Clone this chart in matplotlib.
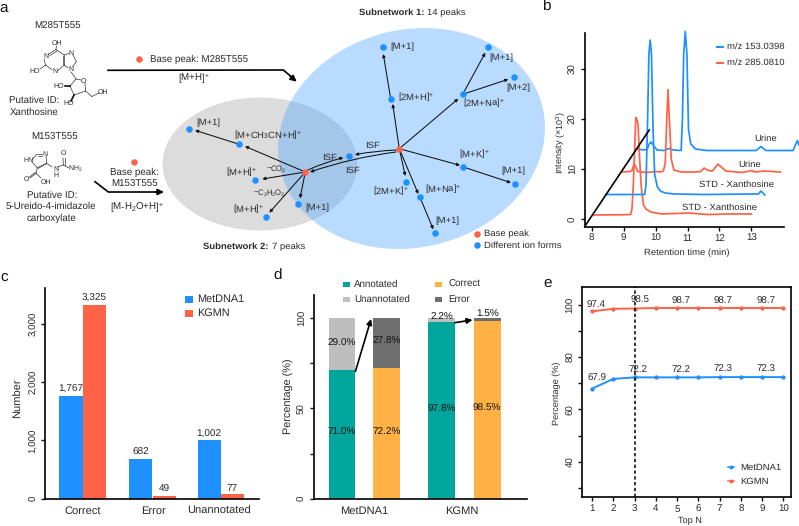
import matplotlib
matplotlib.use('Agg')
import matplotlib.pyplot as plt
from matplotlib.patches import Ellipse, FancyArrowPatch, Rectangle

plt.rcParams.update({
    'font.family': 'Liberation Sans',
    'font.size': 7,
    'text.hinting': 'none',
    'mathtext.fontset': 'custom',
    'mathtext.rm': 'Liberation Sans',
    'mathtext.it': 'Liberation Sans',
    'mathtext.bf': 'Liberation Sans:bold',
    'mathtext.default': 'regular',
    'axes.linewidth': 1.2,
    'text.color': '#2a2a2a',
    'xtick.color': '#111111',
    'ytick.color': '#111111',
    'xtick.labelcolor': '#2a2a2a',
    'ytick.labelcolor': '#2a2a2a',
})

W, H = 799, 526
BLUE = '#1E90FF'
RED = '#FF6347'
TEAL = '#00A59B'
ORANGE = '#FFB144'
LGRAY = '#BEBEBE'
DGRAY = '#6E6E6E'

# panel b traces, (retention time, intensity)
std_red_x = [8.05, 9.0, 9.22, 9.26, 9.3, 9.35, 9.38, 9.41, 9.45, 9.5, 9.55, 9.62, 9.7, 9.85, 10.2, 10.6, 11.05, 11.6, 12.3, 13.0]
std_red_y = [0.8, 0.85, 0.9, 2.0, 6.5, 15.0, 20.3, 20.0, 19.0, 12.0, 6.5, 2.8, 2.0, 1.4, 1.0, 1.1, 1.2, 0.9, 1.0, 1.0]
std_blue_x = [8.45, 9.2, 9.66, 9.7, 9.75, 9.79, 9.83, 9.87, 9.92, 9.97, 10.05, 10.15, 10.3, 10.6, 11.5, 13.1, 13.22, 13.3, 13.36, 13.42]
std_blue_y = [4.9, 4.9, 4.9, 7.0, 20.0, 33.0, 35.8, 33.0, 18.0, 9.0, 6.5, 5.6, 5.2, 5.0, 4.9, 5.0, 5.0, 5.6, 5.2, 4.8]
urine_red_x = [8.97, 9.2, 9.26, 9.33, 9.38, 9.44, 9.7, 10.0, 10.15, 10.24, 10.3, 10.35, 10.39, 10.43, 10.49, 10.57, 10.8, 11.2, 11.42, 11.52, 11.65, 11.78, 11.95, 12.02, 12.2, 12.7, 13.02, 13.1, 13.4, 13.9]
urine_red_y = [9.4, 9.5, 9.7, 11.1, 10.4, 9.5, 9.3, 9.5, 9.4, 9.6, 11.0, 20.0, 25.9, 20.0, 12.0, 9.8, 9.4, 9.4, 9.5, 10.2, 9.7, 9.6, 11.0, 10.6, 9.6, 9.3, 9.7, 9.4, 9.6, 9.4]
urine_blue_x = [9.41, 9.65, 9.74, 9.8, 9.86, 9.95, 10.05, 10.25, 10.42, 10.55, 10.8, 10.84, 10.88, 10.93, 10.98, 11.03, 11.1, 11.25, 11.6, 13.15, 13.3, 13.45, 14.0, 14.3, 14.44, 14.54, 14.7]
urine_blue_y = [14.0, 13.8, 14.0, 15.0, 15.4, 14.5, 13.8, 13.7, 14.1, 13.8, 13.7, 20.0, 33.0, 37.5, 33.0, 18.0, 15.0, 14.0, 13.7, 13.7, 14.5, 13.7, 13.7, 13.7, 15.7, 14.0, 13.7]
waterfall_x = [7.78, 9.8]
waterfall_y = [-1.5, 17.8]

# panel c
c_groups = ['Correct', 'Error', 'Unannotated']
c_metdna = [1767, 682, 1002]
c_kgmn = [3325, 49, 77]

# panel d
d_bottom = [71.0, 72.2, 97.8, 98.5]
d_top = [29.0, 27.8, 2.2, 1.5]

# panel e
top_n = [1, 2, 3, 4, 5, 6, 7, 8, 9, 10]
e_metdna = [67.9, 71.6, 72.2, 72.2, 72.2, 72.2, 72.3, 72.3, 72.3, 72.3]
e_kgmn = [97.4, 98.4, 98.5, 98.7, 98.7, 98.7, 98.7, 98.7, 98.7, 98.7]

# panel a network, image pixels
base_nodes = [(399.3, 148.7), (305.3, 172)]
ion_nodes = [(383, 47.3), (390.7, 99), (462.7, 94.3), (488, 47), (514, 77.3), (463.3, 167),
             (514.7, 184), (420, 197.3), (435.3, 233), (406.3, 182.3), (349, 155.7),
             (298.3, 204.3), (189.3, 128.7), (239.3, 144.3), (255.3, 180), (265.7, 217.3)]
net_arrows = [((399.3, 148.7), (392.7, 104)), ((390.7, 99), (383.3, 54)),
              ((399.3, 148.7), (458.3, 98.7)), ((462.7, 94.3), (485.3, 52.7)),
              ((462.7, 94.3), (508.3, 79.3)), ((399.3, 148.7), (460, 165.3)),
              ((463.3, 167), (511, 182.7)), ((399.3, 148.7), (418.3, 194)),
              ((420, 197.3), (433.3, 229.3)), ((399.3, 148.7), (405.3, 176)),
              ((305.3, 172), (300, 198.3)), ((305.3, 172), (245, 146.3)),
              ((239.3, 144.3), (195, 130.3)), ((305.3, 172), (262.3, 179)),
              ((305.3, 172), (269.3, 212.7))]
net_curves = [((397, 150), (355, 154.7), 0.04), ((396, 152), (310, 172), 0.05),
              ((308, 170), (343.3, 157.7), -0.05)]
net_labels = [(390.7, 47.3, '[M+1]'), (397.7, 97.3, '[2M+H]$^{+}$'), (489.3, 58.3, '[M+1]'),
              (506.7, 87.7, '[M+2]'), (462.7, 102.7, '[2M+Na]$^{+}$'), (459.3, 154.3, '[M+K]$^{+}$'),
              (501.7, 171, '[M+1]'), (424.7, 189.3, '[M+Na]$^{+}$'), (435.7, 221.3, '[M+1]'),
              (372.7, 191.3, '[2M+K]$^{+}$'), (305, 208.3, '[M+1]'), (365, 145.7, 'ISF'),
              (321.7, 157.7, 'ISF'), (345, 170.7, 'ISF'), (196.7, 123.3, '[M+1]'),
              (234.3, 135, '[M+CH$_{3}$CN+H]$^{+}$'), (226, 171.7, '[M+H]$^{+}$'),
              (233.3, 209.3, '[M+H]$^{+}$')]

# molecule skeletons, image pixels
xanthosine_bonds = [((56, 49), (56.5, 46)), ((56, 49.5), (48, 54.5)), ((57, 51), (50, 55.5)), ((44, 59), (45.5, 65)),
                    ((45.5, 65), (52, 69.5)), ((58, 70.5), (64, 65)), ((64, 65), (64, 55)), ((62.5, 64), (62.5, 56)),
                    ((64, 55), (56, 49.5)), ((64, 55), (69, 53.5)), ((73, 55), (76.3, 61.5)), ((76.3, 61.5), (72.5, 67)),
                    ((68, 68), (64, 65)), ((45.5, 65), (40, 69)), ((71, 72), (76, 79)), ((76, 79), (81, 80)),
                    ((85, 83), (85.5, 91)), ((85.5, 91), (74, 95)), ((74, 95), (70, 86)), ((70, 86), (76, 79)),
                    ((85.5, 91), (92, 96.5)), ((92, 96.5), (99, 93))]
xanthosine_wedges = [((70, 86), (65, 86)), ((74, 95), (71, 101))]
xanthosine_atoms = [(57, 42.7, 'OH'), (45.5, 56.5, 'N'), (35, 71.3, 'HO'), (55, 71.3, 'N'), (71, 53.3, 'N'),
                    (70.7, 69.5, 'N'), (83.5, 81, 'O'), (58.5, 86, 'HO'), (68.5, 103, 'HO'), (103, 92.5, 'OH')]
imidazole_bonds = [((32, 160), (36.7, 154.3)), ((36.7, 154.3), (42, 154.3)), ((37.5, 155.5), (42, 155.5)), ((46, 156), (46.7, 163.3)),
                   ((46.7, 163.3), (37.3, 167.7)), ((46, 164), (38, 168.5)), ((37.3, 167.7), (32, 162)),
                   ((37.3, 167.7), (36, 173.3)), ((36, 173.3), (30, 178)), ((35.3, 172.5), (29.5, 177)),
                   ((36, 173.3), (41, 178)), ((46.7, 163.3), (52, 167)), ((57, 167), (63.3, 165)),
                   ((63.3, 165), (63, 158)), ((64.5, 165), (64.5, 158)), ((63.3, 165), (69, 168))]
imidazole_atoms = [(28, 160, 'HN'), (45, 154.3, 'N'), (26.5, 179.5, 'O'), (46, 182.3, 'OH'), (55.5, 168.7, 'N'),
                   (55.5, 175.3, 'H'), (63.3, 153.3, 'O'), (75.5, 168.3, 'NH$_{2}$')]


def px_axes(fig, left, top, right, bottom):
    return fig.add_axes([left / W, 1 - bottom / H, (right - left) / W, (bottom - top) / H])


def clean_spines(ax):
    ax.spines['top'].set_visible(False)
    ax.spines['right'].set_visible(False)
    ax.tick_params(axis='both', length=3, width=1.0, pad=2)
    plt.setp(ax.get_yticklabels(), rotation=90, va='center')


fig = plt.figure(figsize=(W / 100, H / 100), dpi=100)

# overlay in image pixels, for panel a and for the loose texts
ov = fig.add_axes([0, 0, 1, 1], zorder=10)
ov.set_xlim(0, W)
ov.set_ylim(H, 0)
ov.axis('off')
ov.patch.set_alpha(0)

# panel a
ov.add_patch(Ellipse((260, 164), 195, 133, fc='#DCDCDC', ec='none', zorder=1))
ov.add_patch(Ellipse((411.5, 138.5), 269.6, 217.8, angle=-13.5, fc='#50A7FF', alpha=0.4, ec='none', zorder=2))

for a, b in xanthosine_bonds + imidazole_bonds:
    ov.plot([a[0], b[0]], [a[1], b[1]], color='#333333', lw=0.5, zorder=3)
for a, b in xanthosine_wedges:
    ov.plot([a[0], b[0]], [a[1], b[1]], color='#111111', lw=1.2, zorder=3)
for x, y, s in xanthosine_atoms + imidazole_atoms:
    ov.text(x, y, s, fontsize=5, ha='center', va='center')

for a, b in net_arrows:
    ov.add_patch(FancyArrowPatch(a, b, arrowstyle='-|>', mutation_scale=4.5, lw=0.75, color='#111111',
                                 shrinkA=0, shrinkB=0, zorder=4))
for a, b, rad in net_curves:
    ov.add_patch(FancyArrowPatch(a, b, arrowstyle='-|>', mutation_scale=4.5, lw=0.75, color='#111111',
                                 connectionstyle='arc3,rad=%g' % rad, shrinkA=0, shrinkB=0, zorder=4))

ov.scatter([p[0] for p in ion_nodes] + [477], [p[1] for p in ion_nodes] + [245.3], s=22, color=BLUE, lw=0, zorder=5)
ov.scatter([p[0] for p in base_nodes] + [134.3, 139.3, 477], [p[1] for p in base_nodes] + [162.3, 58.7, 234],
           s=22, color=RED, lw=0, zorder=5)

for x, y, s in net_labels:
    ov.text(x, y, s, fontsize=6.8, ha='left', va='center', zorder=6)
ov.text(266, 169, '$-$CO$_{2}$', fontsize=5.5, ha='left', va='center', zorder=6)
ov.text(253.3, 192.3, '$-$C$_{2}$H$_{2}$O$_{2}$', fontsize=5.5, ha='left', va='center', zorder=6)

ov.plot([108, 283.3, 294], [70.3, 70, 79], color='k', lw=1.2, zorder=4)
ov.add_patch(FancyArrowPatch((290, 76), (296.7, 81.7), arrowstyle='-|>', mutation_scale=9, lw=1.2, color='k',
                             shrinkA=0, shrinkB=0, zorder=4))
ov.plot([95, 108.3, 158], [181.7, 192, 192], color='k', lw=1.2, zorder=4)
ov.add_patch(FancyArrowPatch((155, 192), (164, 192), arrowstyle='-|>', mutation_scale=9, lw=1.2, color='k',
                             shrinkA=0, shrinkB=0, zorder=4))

ctext = [(58, 26, 'M285T555'), (33.7, 100.7, 'Putative ID:'), (33.7, 112, 'Xanthosine'),
         (54.7, 137.3, 'M153T555'), (52, 195, 'Putative ID:'), (51, 206.7, '5-Ureido-4-imidazole'),
         (52, 218.3, 'carboxylate'), (194, 78, '[M+H]$^{+}$'), (134.3, 172.7, 'Base peak:'),
         (135, 184.3, 'M153T555'), (137.3, 207.3, '[M-H$_{2}$O+H]$^{+}$')]
for x, y, s in ctext:
    ov.text(x, y, s, fontsize=7, ha='center', va='center', zorder=6)
ov.text(424, 13, 'Subnetwork 1:', fontsize=6.8, weight='bold', ha='right', va='center')
ov.text(427, 13, '14 peaks', fontsize=6.8, ha='left', va='center')
ov.text(268.3, 246.7, 'Subnetwork 2:', fontsize=6.8, weight='bold', ha='right', va='center')
ov.text(271.7, 246.7, '7 peaks', fontsize=6.8, ha='left', va='center')
ov.text(150, 59.3, 'Base peak: M285T555', fontsize=7, ha='left', va='center')
ov.text(483.7, 234, 'Base peak', fontsize=6.8, ha='left', va='center')
ov.text(483.7, 245.3, 'Different ion forms', fontsize=6.8, ha='left', va='center')

for x, y, s in [(4, 8, 'a'), (546, 7, 'b'), (4, 276.7, 'c'), (277.3, 276, 'd'), (547.7, 282.7, 'e')]:
    ov.text(x, y, s, fontsize=11, ha='center', va='center', color='#111111')

# panel b
axb = px_axes(fig, 584.7, 33, 784, 226.7)
axb.set_xlim(7.78, 14.02)
axb.set_ylim(-1.54, 37.2)
axb.plot(std_red_x, std_red_y, color=RED, lw=1.25, clip_on=False, zorder=3)
axb.plot(std_blue_x, std_blue_y, color=BLUE, lw=1.25, clip_on=False, zorder=3)
axb.plot(urine_blue_x, urine_blue_y, color=BLUE, lw=1.25, clip_on=False, zorder=2)
axb.plot(urine_red_x, urine_red_y, color=RED, lw=1.25, clip_on=False, zorder=2)
axb.plot(waterfall_x, waterfall_y, color='k', lw=1.2, clip_on=False, zorder=4)
axb.set_xticks([8, 9, 10, 11, 12, 13])
axb.set_yticks([0, 10, 20, 30])
clean_spines(axb)
ov.text(560, 143, 'Intensity (×10$^{3}$)', fontsize=6.5, rotation=90, ha='center', va='center')
ov.text(686.7, 252.7, 'Retention time (min)', fontsize=6.8, ha='center', va='center')
ov.plot([717, 723], [47, 47], color=BLUE, lw=1.5)
ov.plot([717, 723], [63, 63], color=RED, lw=1.5)
ov.text(727, 47, 'm/z 153.0398', fontsize=6.8, ha='left', va='center')
ov.text(727, 63, 'm/z 285.0810', fontsize=6.8, ha='left', va='center')
for x, y, s in [(765.3, 139, 'Urine'), (749.7, 164.7, 'Urine'), (736.3, 185, 'STD - Xanthosine'),
                (719.7, 207.3, 'STD - Xanthosine')]:
    ov.text(x, y, s, fontsize=6.8, ha='center', va='center')

# panel c
axc = px_axes(fig, 45.3, 288, 259, 498.7)
axc.set_xlim(-0.533, 2.524)
axc.set_ylim(0, 3610)
c_pos = [0, 1.0, 1.976]
bar_w = 0.33
for i, p in enumerate(c_pos):
    axc.bar(p - bar_w / 2, c_metdna[i], bar_w, color=BLUE)
    axc.bar(p + bar_w / 2 + 0.003, c_kgmn[i], bar_w, color=RED)
    axc.text(p - bar_w / 2, c_metdna[i] + 25, f'{c_metdna[i]:,}', fontsize=7.2, ha='center', va='bottom')
    axc.text(p + bar_w / 2, c_kgmn[i] + 25, f'{c_kgmn[i]:,}', fontsize=7.2, ha='center', va='bottom')
axc.set_xticks([0, 1.01, 1.952])
axc.set_xticklabels(c_groups, fontsize=8)
axc.set_yticks([0, 1000, 2000, 3000])
axc.set_yticklabels(['0', '1,000', '2,000', '3,000'])
clean_spines(axc)
axc.tick_params(axis='x', length=0, pad=5)
ov.text(18, 398, 'Number', fontsize=8, rotation=90, ha='center', va='center')
ov.add_patch(Rectangle((185, 295.5), 7.7, 7, fc=BLUE, ec='none'))
ov.add_patch(Rectangle((185, 310), 7.7, 7, fc=RED, ec='none'))
ov.text(196.7, 299, 'MetDNA1', fontsize=7.8, ha='left', va='center')
ov.text(196.7, 313.3, 'KGMN', fontsize=7.8, ha='left', va='center')

# panel d
axd = px_axes(fig, 313.7, 295, 526.7, 498.7)
axd.set_xlim(-0.634, 4.134)
axd.set_ylim(0, 112.8)
d_pos = [0, 1, 2.23, 3.25]
axd.bar(d_pos[0], d_bottom[0], 0.6, color=TEAL)
axd.bar(d_pos[0], d_top[0], 0.6, bottom=d_bottom[0], color=LGRAY)
axd.bar(d_pos[1], d_bottom[1], 0.6, color=ORANGE)
axd.bar(d_pos[1], d_top[1], 0.6, bottom=d_bottom[1], color=DGRAY)
axd.bar(d_pos[2], d_bottom[2], 0.6, color=TEAL)
axd.bar(d_pos[2], d_top[2], 0.6, bottom=d_bottom[2], color=LGRAY)
axd.bar(d_pos[3], d_bottom[3], 0.6, color=ORANGE)
axd.bar(d_pos[3], d_top[3], 0.6, bottom=d_bottom[3], color=DGRAY)
d_low_label_y = [36.5, 36.8, 49.5, 50]
d_high_label_y = [86, 87, 100.5, 102]
for i, p in enumerate(d_pos):
    axd.text(p, d_low_label_y[i], f'{d_bottom[i]:.1f}%', fontsize=7.2, ha='center', va='center', color='#111111')
    axd.text(p, d_high_label_y[i], f'{d_top[i]:.1f}%', fontsize=7.2, ha='center', va='center', color='#111111')
axd.annotate('', xy=(0.65, 99.5), xytext=(0.3, 70.5),
             arrowprops=dict(arrowstyle='-|>', color='k', lw=1.2, mutation_scale=8, shrinkA=0, shrinkB=0))
axd.annotate('', xy=(2.92, 99), xytext=(2.53, 97.5),
             arrowprops=dict(arrowstyle='-|>', color='k', lw=1.2, mutation_scale=8, shrinkA=0, shrinkB=0))
axd.set_xticks([0.49, 2.68])
axd.set_xticklabels(['MetDNA1', 'KGMN'], fontsize=8)
axd.set_yticks([0, 25, 50, 75, 100])
axd.set_yticklabels(['0', '', '50', '', '100'])
clean_spines(axd)
axd.tick_params(axis='x', length=0, pad=5)
ov.text(289.3, 396.7, 'Percentage (%)', fontsize=7.8, rotation=90, ha='center', va='center')
for x, y, c, s in [(343.3, 284.7, TEAL, 'Annotated'), (343.3, 299.3, LGRAY, 'Unannotated'),
                   (435.3, 284.7, ORANGE, 'Correct'), (435.3, 299.3, DGRAY, 'Error')]:
    ov.add_patch(Rectangle((x, y - 2.7), 7, 5.4, fc=c, ec='none'))
    ov.text(x + 11 if c in (TEAL, LGRAY) else x + 13, y, s, fontsize=7, ha='left', va='center')

# panel e
axe = px_axes(fig, 582.3, 287.3, 791, 497.3)
axe.set_xlim(0.545, 10.36)
axe.set_ylim(26.4, 106.6)
axe.axvline(3, color='k', ls=(0, (2.2, 1.6)), lw=1.1, zorder=4)
axe.plot(top_n, e_metdna, color=BLUE, lw=1.4, marker='o', ms=3.1, mew=0, zorder=3)
axe.plot(top_n, e_kgmn, color=RED, lw=1.4, marker='o', ms=3.1, mew=0, zorder=3)
e_low_label_y = [71.8, 75.3, 75.3, 75.3, 75.3]
e_high_label_y = [99.9, 101.5, 101.1, 101.1, 101.1]
for k, i in enumerate([0, 2, 4, 6, 8]):
    axe.text(top_n[i] + (0.25 if i == 0 else 0.18), e_low_label_y[k], f'{e_metdna[i]:.1f}',
             fontsize=7, ha='center', va='center', zorder=6)
    axe.text(top_n[i] + (0.25 if i == 2 else 0.17), e_high_label_y[k], f'{e_kgmn[i]:.1f}',
             fontsize=7, ha='center', va='center', zorder=6)
axe.set_xticks(top_n)
axe.set_yticks([30, 40, 50, 60, 70, 80, 90, 100])
axe.set_yticklabels(['', '40', '', '60', '', '80', '', '100'])
axe.tick_params(axis='both', length=3, width=1.0, pad=2, labelsize=7)
plt.setp(axe.get_yticklabels(), rotation=90, va='center')
ov.text(557.3, 393.3, 'Percentage (%)', fontsize=6.6, rotation=90, ha='center', va='center')
ov.text(690, 520.7, 'Top N', fontsize=6.6, ha='center', va='center')
ov.plot([727.5, 734], [467.3, 467.3], color=BLUE, lw=1.1)
ov.plot([730.7], [467.3], color=BLUE, marker='o', ms=2.8, mew=0)
ov.plot([727.5, 734], [481.3, 481.3], color=RED, lw=1.1)
ov.plot([730.7], [481.3], color=RED, marker='o', ms=2.8, mew=0)
ov.text(740, 467.3, 'MetDNA1', fontsize=6.8, ha='left', va='center')
ov.text(740, 481.3, 'KGMN', fontsize=6.8, ha='left', va='center')

ov.set_xlim(0, W)
ov.set_ylim(H, 0)
fig.savefig('out.png', dpi=100)
